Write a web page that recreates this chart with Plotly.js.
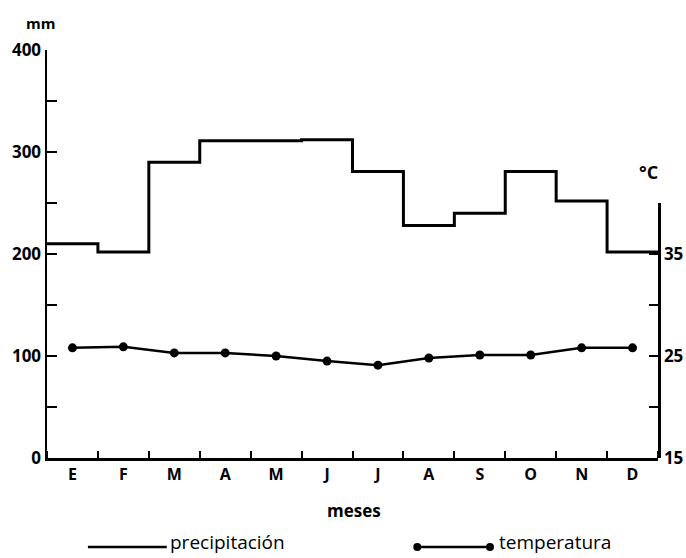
<!DOCTYPE html>
<html>
<head>
<meta charset="utf-8">
<script src="https://cdn.plot.ly/plotly-3.0.1.min.js"></script>
<style>html,body{margin:0;padding:0;background:#fff;}#chart{width:686px;height:558px;}</style>
</head>
<body>
<div id="chart"></div>
<script>
// Data
const months = ["E","F","M","A","M","J","J","A","S","O","N","D"];
const precipitation = [210, 202, 290, 311, 311, 312, 281, 228, 240, 281, 252, 202];
const temperature = [25.8, 25.9, 25.3, 25.3, 25.0, 24.5, 24.1, 24.8, 25.1, 25.1, 25.8, 25.8];
const mmTicks = [0, 100, 200, 300, 400];
const cTicks = [15, 25, 35];

const monthCenters = months.map((m, i) => i + 0.5);
const stepX = months.map((m, i) => i).concat([months.length]);
const stepY = precipitation.concat([precipitation[precipitation.length - 1]]);

const FONT = "Open Sans, Lato, sans-serif";
const LEG_Y = -0.218;
const LEG_TEXT_Y = -0.207;

const traces = [
  {
    x: stepX, y: stepY, type: "scatter", mode: "lines",
    line: {shape: "hv", color: "#000", width: 3},
    xaxis: "x", yaxis: "y", hoverinfo: "skip", showlegend: false
  },
  {
    x: monthCenters, y: temperature, type: "scatter", mode: "lines+markers",
    line: {color: "#000", width: 2.5},
    marker: {color: "#000", size: 9},
    xaxis: "x", yaxis: "y2", hoverinfo: "skip", showlegend: false
  }
];

const layout = {
  width: 686, height: 558,
  margin: {l: 47, r: 28, t: 50, b: 100},
  paper_bgcolor: "#fff", plot_bgcolor: "rgba(0,0,0,0)",
  showlegend: false,
  font: {family: FONT, color: "#000"},
  xaxis: {
    range: [0, 12], domain: [0, 1], anchor: "y",
    showgrid: false, zeroline: false,
    showline: true, linecolor: "#000", linewidth: 2.5,
    tickmode: "array", tickvals: monthCenters, ticktext: months,
    ticks: "", ticklabelstandoff: 0,
    tickfont: {family: FONT, size: 16, weight: 700, color: "#000"},
    minor: {tickmode: "linear", tick0: 0, dtick: 1, ticks: "inside", ticklen: 7, tickwidth: 2, tickcolor: "#000", showgrid: false}
  },
  yaxis: {
    range: [0, 400], domain: [0, 1], anchor: "x",
    showgrid: false, zeroline: false,
    showline: true, linecolor: "#000", linewidth: 2.5,
    tickmode: "array", tickvals: mmTicks, ticktext: mmTicks.map(String),
    ticks: "inside", ticklen: 10, tickwidth: 2, tickcolor: "#000",
    ticklabelstandoff: 0,
    tickfont: {family: FONT, size: 17, weight: 700, color: "#000"},
    minor: {tickmode: "linear", tick0: 0, dtick: 50, ticks: "inside", ticklen: 10, tickwidth: 2, tickcolor: "#000", showgrid: false}
  },
  yaxis2: {
    range: [15, 40], domain: [0, 0.625], anchor: "x", side: "right",
    showgrid: false, zeroline: false,
    showline: true, linecolor: "#000", linewidth: 2.5,
    tickmode: "array", tickvals: cTicks, ticktext: cTicks.map(String),
    ticks: "inside", ticklen: 9, tickwidth: 2, tickcolor: "#000",
    ticklabelstandoff: 0,
    tickfont: {family: FONT, size: 17, weight: 700, color: "#000"},
    minor: {tickmode: "linear", tick0: 15, dtick: 5, ticks: "inside", ticklen: 9, tickwidth: 2, tickcolor: "#000", showgrid: false}
  },
  annotations: [
    {text: "mm", xref: "paper", yref: "paper", x: -0.011, y: 1.066, xanchor: "center", yanchor: "middle", showarrow: false,
     font: {family: FONT, size: 15, weight: 700, color: "#000"}},
    {text: "°C", xref: "paper", yref: "paper", x: 0.984, y: 0.70, xanchor: "center", yanchor: "middle", showarrow: false,
     font: {family: FONT, size: 18, weight: 700, color: "#000"}},
    {text: "meses", xref: "paper", yref: "paper", x: 0.503, y: -0.128, xanchor: "center", yanchor: "middle", showarrow: false,
     font: {family: FONT, size: 17, weight: 700, color: "#000"}},
    {text: "precipitación", xref: "paper", yref: "paper", x: 0.199, y: LEG_TEXT_Y, xanchor: "left", yanchor: "middle", showarrow: false,
     borderpad: 0, font: {family: FONT, size: 19, weight: 500, color: "#000"}},
    {text: "temperatura", xref: "paper", yref: "paper", x: 0.738, y: LEG_TEXT_Y, xanchor: "left", yanchor: "middle", showarrow: false,
     borderpad: 0, font: {family: FONT, size: 19, weight: 500, color: "#000"}}
  ],
  shapes: [
    {type: "line", xref: "paper", yref: "paper", x0: 0.067, x1: 0.196, y0: LEG_Y, y1: LEG_Y,
     line: {color: "#000", width: 2.5}},
    {type: "line", xref: "paper", yref: "paper", x0: 0.606, x1: 0.725, y0: LEG_Y, y1: LEG_Y,
     line: {color: "#000", width: 2.5}},
    {type: "circle", xref: "paper", yref: "paper", xsizemode: "pixel", ysizemode: "pixel",
     xanchor: 0.606, yanchor: LEG_Y, x0: -4, x1: 4, y0: -4, y1: 4,
     fillcolor: "#000", line: {color: "#000", width: 0}},
    {type: "circle", xref: "paper", yref: "paper", xsizemode: "pixel", ysizemode: "pixel",
     xanchor: 0.725, yanchor: LEG_Y, x0: -4, x1: 4, y0: -4, y1: 4,
     fillcolor: "#000", line: {color: "#000", width: 0}}
  ]
};

Plotly.newPlot("chart", traces, layout, {displayModeBar: false, staticPlot: true});
</script>
</body>
</html>
